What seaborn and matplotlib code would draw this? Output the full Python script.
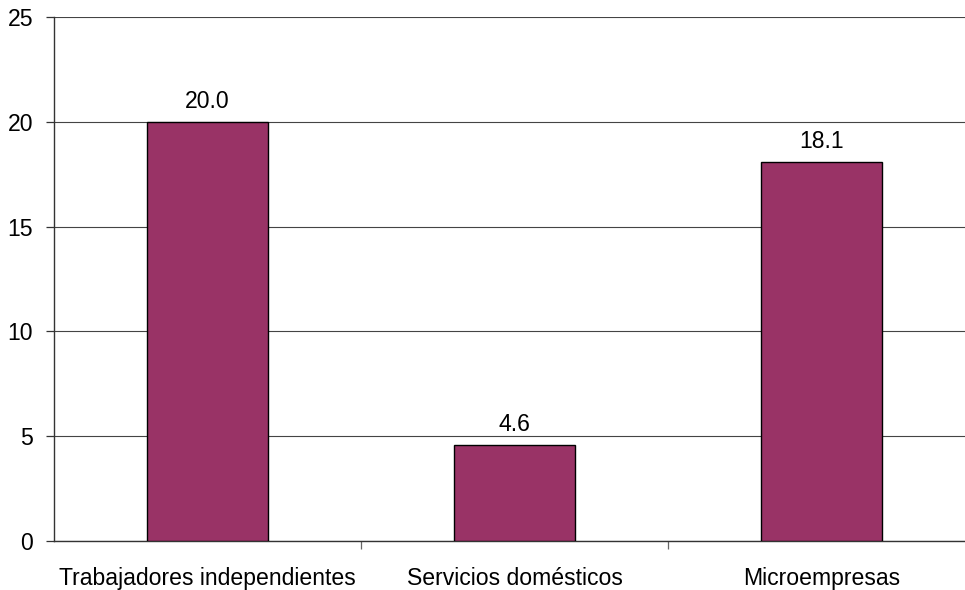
import matplotlib
matplotlib.use("Agg")
import matplotlib.pyplot as plt
import seaborn as sns
import pandas as pd
from matplotlib.ticker import FixedLocator

categories = ["Trabajadores independientes", "Servicios domésticos", "Microempresas"]
values = [20.0, 4.6, 18.1]
y_ticks = [0, 5, 10, 15, 20, 25]

sns.set_style("white")
plt.rcParams["font.family"] = ["Liberation Sans", "DejaVu Sans"]
plt.rcParams["text.color"] = "black"
plt.rcParams["xtick.color"] = "black"
plt.rcParams["ytick.color"] = "black"

df = pd.DataFrame({"categoria": categories, "valor": values})

fig = plt.figure(figsize=(9.65, 5.9), dpi=100)
W, H = 965, 590
left, right, top, bottom = 54, 975, 17, 541
ax = fig.add_axes([left / W, 1 - bottom / H, (right - left) / W, (bottom - top) / H])

sns.barplot(data=df, x="categoria", y="valor", color="#993366", saturation=1,
            width=0.394, edgecolor="black", linewidth=1.0, ax=ax, zorder=3)

ax.set_xlim(-0.5, 2.5)
ax.set_ylim(0, 25)
ax.set_yticks(y_ticks)
ax.yaxis.grid(True, color="#444444", linewidth=0.8, zorder=0)
ax.set_axisbelow(True)

for s in ["top", "right"]:
    ax.spines[s].set_visible(False)
for s in ["left", "bottom"]:
    ax.spines[s].set_color("#333333")
    ax.spines[s].set_linewidth(1.0)

ax.set_xlabel("")
ax.set_ylabel("")
fs = 16.6
ax.tick_params(axis="y", which="major", length=6, width=0.9, color="#333333",
               labelsize=fs, pad=9, left=True, labelcolor="black")
ax.tick_params(axis="x", which="major", length=0, labelsize=fs, pad=19, labelcolor="black")
ax.xaxis.set_minor_locator(FixedLocator([0.5, 1.5]))
ax.tick_params(axis="x", which="minor", length=6, width=0.9, color="#666666", bottom=True)

for i, v in enumerate(values):
    ax.text(i, v + 0.4, f"{v:.1f}", ha="center", va="bottom", fontsize=fs, color="black")

fig.savefig("out.png", dpi=100)
